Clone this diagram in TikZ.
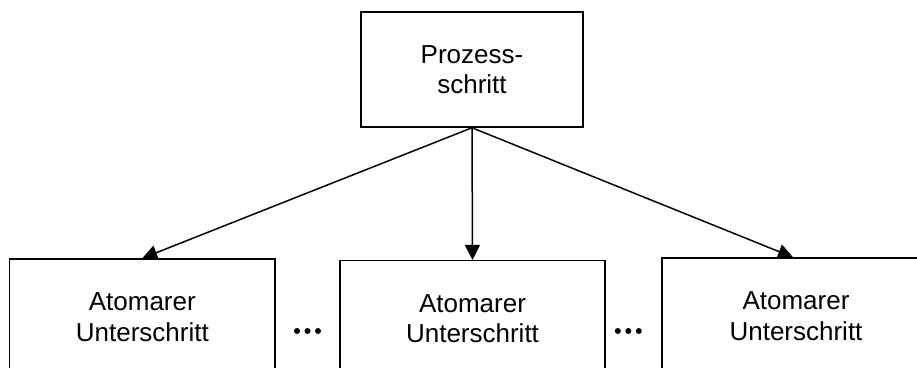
\documentclass[tikz,border=0pt]{standalone}
\usepackage{fontspec}
\setmainfont{Liberation Sans}
\usetikzlibrary{arrows.meta,calc}
\begin{document}
\begin{tikzpicture}[x=1pt,y=-1pt,
  box/.style={draw=black,line width=1.5pt,rectangle,inner sep=0pt,align=center,
    font=\fontsize{26}{30.5}\selectfont},
  conn/.style={line width=1.5pt,-{Triangle[length=15pt,width=15pt]}},
  dotmark/.style={fill=black}]
\clip (0,0) rectangle (917,367);
\fill[white] (0,0) rectangle (917,367);
\node[box,minimum width=222pt,minimum height=115pt] (top) at (472,69.5) {Prozess-\\schritt};
\node[box,minimum width=265.5pt,minimum height=116pt] (l) at (142.3,317) {Atomarer\\Unterschritt};
\node[box,minimum width=265pt,minimum height=116pt] (m) at (472.5,318.7) {Atomarer\\Unterschritt};
\node[box,minimum width=268pt,minimum height=116pt] (r) at (796,316) {Atomarer\\Unterschritt};
\draw[conn] (top.south) -- (l.north);
\draw[conn] (top.south) -- (m.north);
\draw[conn] (top.south) -- ($(r.north)+(-3,0)$);
\coordinate (d1) at (307.5,331);
\coordinate (d2) at (628.3,331);
\foreach \c in {d1,d2}
  \foreach \dx in {-10.5,0,10.5}
    \fill[dotmark] ($(\c)+(\dx,0)$) circle (3);
\end{tikzpicture}
\end{document}
